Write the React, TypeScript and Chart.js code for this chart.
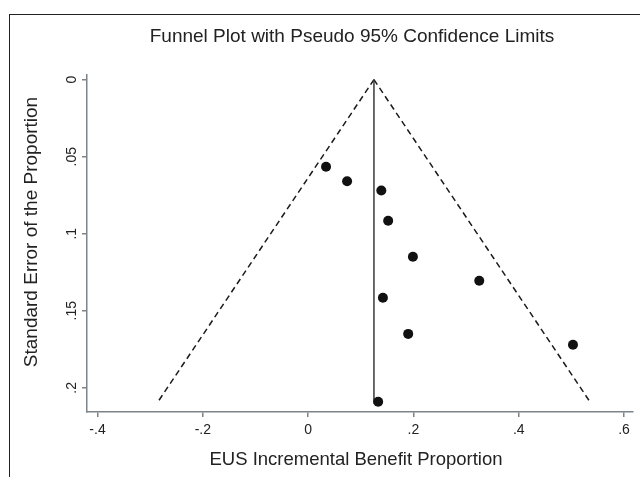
import React, { useEffect, useRef } from "react";
import { Chart, registerables } from "chart.js";

Chart.register(...registerables);

// ---- data ----
const studyEffect = [0.034, 0.074, 0.139, 0.152, 0.199, 0.325, 0.142, 0.19, 0.503, 0.133];
const studySE = [0.0565, 0.066, 0.072, 0.0916, 0.115, 0.1305, 0.1416, 0.165, 0.172, 0.209];
const pooledEffect = 0.125;
const funnelTopSE = 0;
const funnelBottomSE = 0.21;
const lowerLimitAtBottom = -0.287;
const upperLimitAtBottom = 0.537;
const xTickValues = [-0.4, -0.2, 0, 0.2, 0.4, 0.6];
const xTickLabels = ["-.4", "-.2", "0", ".2", ".4", ".6"];
const yTickValues = [0, 0.05, 0.1, 0.15, 0.2];
const yTickLabels = ["0", ".05", ".1", ".15", ".2"];
const chartTitle = "Funnel Plot with Pseudo 95% Confidence Limits";
const xTitle = "EUS Incremental Benefit Proportion";
const yTitle = "Standard Error of the Proportion";

const FONT = '"Liberation Sans", Arial, Helvetica, sans-serif';
const TEXT = "#222222";
const AXIS = "#7d8489";

const titlesPlugin = {
  id: "stataTitles",
  afterDraw(chart: any) {
    const ctx = chart.ctx;
    ctx.save();
    ctx.fillStyle = TEXT;
    ctx.textAlign = "center";
    ctx.textBaseline = "middle";
    ctx.font = `19px ${FONT}`;
    ctx.fillText(chartTitle, 352, 37);
    ctx.font = `18.5px ${FONT}`;
    ctx.fillText(xTitle, 356, 460);
    ctx.translate(32, 232);
    ctx.rotate(-Math.PI / 2);
    ctx.font = `19px ${FONT}`;
    ctx.fillText(yTitle, 0, 0);
    ctx.restore();
  },
};

export default function App() {
  const canvasRef = useRef<HTMLCanvasElement | null>(null);

  useEffect(() => {
    const canvas = canvasRef.current;
    if (!canvas) return;
    const points = studyEffect.map((x, i) => ({ x, y: studySE[i] }));
    const chart = new Chart(canvas, {
      type: "scatter",
      data: {
        datasets: [
          {
            label: "Studies",
            data: points,
            pointRadius: 5,
            pointBackgroundColor: "#111111",
            pointBorderWidth: 0,
            order: 0,
          },
          {
            label: "Pooled",
            data: [
              { x: pooledEffect, y: funnelTopSE },
              { x: pooledEffect, y: funnelBottomSE },
            ],
            showLine: true,
            pointRadius: 0,
            borderColor: "#3a3a3a",
            borderWidth: 1.5,
            order: 1,
          },
          {
            label: "Lower limit",
            data: [
              { x: pooledEffect, y: funnelTopSE },
              { x: lowerLimitAtBottom, y: funnelBottomSE },
            ],
            showLine: true,
            pointRadius: 0,
            borderColor: "#1a1a1a",
            borderWidth: 1.5,
            borderDash: [6, 4],
            order: 1,
          },
          {
            label: "Upper limit",
            data: [
              { x: pooledEffect, y: funnelTopSE },
              { x: upperLimitAtBottom, y: funnelBottomSE },
            ],
            showLine: true,
            pointRadius: 0,
            borderColor: "#1a1a1a",
            borderWidth: 1.5,
            borderDash: [6, 4],
            order: 1,
          },
        ],
      },
      options: {
        responsive: false,
        animation: false,
        devicePixelRatio: 1,
        layout: { padding: { top: 75, left: 8, right: 7, bottom: 0 } },
        plugins: {
          legend: { display: false },
          tooltip: { enabled: false },
          title: { display: false },
        },
        scales: {
          x: {
            type: "linear",
            min: -0.42,
            max: 0.617,
            afterBuildTicks: (s: any) => {
              s.ticks = xTickValues.map((v) => ({ value: v }));
            },
            afterFit: (s: any) => {
              s.height = 65;
              s.paddingLeft = 0;
              s.paddingRight = 0;
            },
            ticks: {
              autoSkip: false,
              maxRotation: 0,
              minRotation: 0,
              padding: 5,
              color: TEXT,
              font: { family: FONT, size: 14 },
              callback: (v: any) => xTickLabels[xTickValues.indexOf(v)] ?? "",
            },
            grid: {
              display: true,
              drawOnChartArea: false,
              drawTicks: true,
              tickLength: 5,
              color: AXIS,
              lineWidth: 1.5,
            },
            border: { display: true, color: AXIS, width: 1.5 },
          },
          y: {
            type: "linear",
            reverse: true,
            min: -0.003,
            max: 0.2157,
            afterBuildTicks: (s: any) => {
              s.ticks = yTickValues.map((v) => ({ value: v }));
            },
            afterFit: (s: any) => {
              s.width = 79;
              s.paddingTop = 0;
              s.paddingBottom = 0;
            },
            ticks: {
              autoSkip: false,
              minRotation: 90,
              maxRotation: 90,
              crossAlign: "center",
              padding: 0,
              color: TEXT,
              font: { family: FONT, size: 14 },
              callback: (v: any) => yTickLabels[yTickValues.indexOf(v)] ?? "",
            },
            grid: {
              display: true,
              drawOnChartArea: false,
              drawTicks: true,
              tickLength: 5,
              color: AXIS,
              lineWidth: 1.5,
            },
            border: { display: true, color: AXIS, width: 1.5 },
          },
        },
      },
      plugins: [titlesPlugin],
    } as any);
    return () => chart.destroy();
  }, []);

  return (
    <div
      style={{
        position: "fixed",
        left: 0,
        top: 0,
        width: 640,
        height: 477,
        background: "#ffffff",
        overflow: "hidden",
      }}
    >
      <div
        style={{
          position: "absolute",
          left: 9,
          top: 14,
          width: 640,
          height: 477,
          borderTop: "1.5px solid #222222",
          borderLeft: "1.5px solid #222222",
        }}
      />
      <canvas
        ref={canvasRef}
        width={640}
        height={477}
        style={{ position: "absolute", left: 0, top: 0, width: 640, height: 477 }}
      />
    </div>
  );
}
